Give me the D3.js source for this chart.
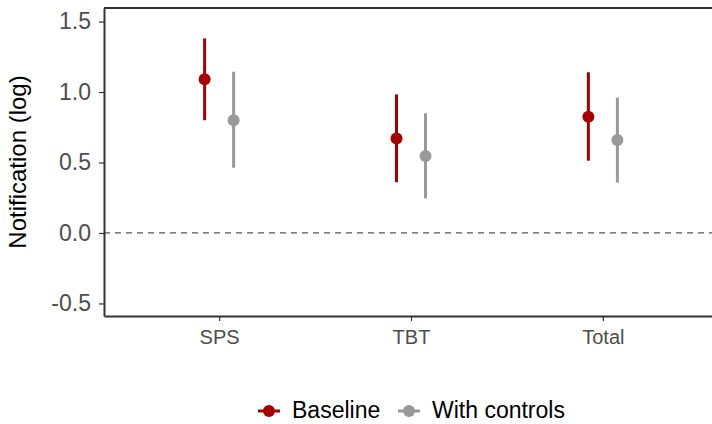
<!DOCTYPE html>
<html>
<head>
<meta charset="utf-8">
<script src="https://cdn.jsdelivr.net/npm/d3@7"></script>
<style>
  body { margin: 0; background: #fff; }
  text { font-family: "Liberation Sans", Arial, sans-serif; }
</style>
</head>
<body>
<svg id="chart" width="712" height="424"></svg>
<script>
// data
var categories = ['SPS', 'TBT', 'Total'];
var models = ['Baseline', 'With controls'];
var colors = ['#a50000', '#999999'];

var baselineEst = [1.09, 0.67, 0.825];
var baselineLo = [0.80, 0.36, 0.513];
var baselineHi = [1.38, 0.983, 1.14];

var controlsEst = [0.80, 0.546, 0.66];
var controlsLo = [0.463, 0.246, 0.357];
var controlsHi = [1.144, 0.849, 0.96];

var yTicks = [-0.5, 0, 0.5, 1.0, 1.5];

var marginLeft = 104;
var marginTop = 8;
var width = 614;   // panel runs off the right edge, as in the original
var height = 308;

var svg = d3.select('#chart');

var rows = [];
categories.forEach(function(c, i){
	rows.push({cat: c, model: 0, est: baselineEst[i], lo: baselineLo[i], hi: baselineHi[i]});
	rows.push({cat: c, model: 1, est: controlsEst[i], lo: controlsLo[i], hi: controlsHi[i]});
});

var xScale = d3.scalePoint()
				.domain(categories)
				.range([0, width])
				.padding(0.6);

var yScale = d3.scaleLinear()
				.domain([-0.589, 1.596])
				.range([height, 0]);

var dodge = 14.5;

var graph = svg.append('g')
		.attr('transform', 'translate(' + marginLeft + ',' + marginTop + ')');

// zero reference line
graph.append('line')
	.attr('x1', 0).attr('x2', width)
	.attr('y1', yScale(0)).attr('y2', yScale(0))
	.attr('stroke', '#555')
	.attr('stroke-width', 1.3)
	.attr('stroke-dasharray', '6,5');

// error bars
graph.selectAll('.ci')
	.data(rows)
	.enter().append('line')
	.attr('class', 'ci')
	.attr('x1', function(d){ return xScale(d.cat) + (d.model ? dodge : -dodge); })
	.attr('x2', function(d){ return xScale(d.cat) + (d.model ? dodge : -dodge); })
	.attr('y1', function(d){ return yScale(d.lo); })
	.attr('y2', function(d){ return yScale(d.hi); })
	.attr('stroke', function(d){ return colors[d.model]; })
	.attr('stroke-width', 3);

graph.selectAll('.pt')
	.data(rows)
	.enter().append('circle')
	.attr('class', 'pt')
	.attr('cx', function(d){ return xScale(d.cat) + (d.model ? dodge : -dodge); })
	.attr('cy', function(d){ return yScale(d.est); })
	.attr('r', 6)
	.attr('fill', function(d){ return colors[d.model]; });

// axes
var fmt = function(d){ return d3.format('.1f')(d).replace('\u2212', '-'); };
var yAxisGen = d3.axisLeft(yScale).tickValues(yTicks).tickFormat(fmt).tickSize(5).tickSizeOuter(0).tickPadding(8);
var xAxisGen = d3.axisBottom(xScale).tickSize(5).tickSizeOuter(0).tickPadding(9);

var yAxis = graph.append('g').call(yAxisGen);
var xAxis = graph.append('g')
	.attr('transform', 'translate(0,' + height + ')')
	.call(xAxisGen);

[yAxis, xAxis].forEach(function(a){
	a.select('.domain').attr('stroke', '#333').attr('stroke-width', 2);
	a.selectAll('.tick line').attr('stroke', '#333').attr('stroke-width', 1.2);
	a.selectAll('.tick text').attr('fill', '#4d4d4d');
});
yAxis.selectAll('.tick text').style('font-size', '23px');
xAxis.selectAll('.tick text').style('font-size', '20px');

// top border
graph.append('line')
	.attr('x1', 0).attr('x2', width)
	.attr('y1', 0).attr('y2', 0)
	.attr('stroke', '#333')
	.attr('stroke-width', 2);

// y label
svg.append('text')
	.attr('transform', 'translate(26,' + (marginTop + height / 2) + ') rotate(-90)')
	.attr('text-anchor', 'middle')
	.style('font-size', '24px')
	.attr('fill', '#000')
	.text('Notification (log)');

// legend
var legend = svg.append('g').attr('transform', 'translate(258,411)');
var lx = [0, 140];
models.forEach(function(m, i){
	var g = legend.append('g').attr('transform', 'translate(' + lx[i] + ',0)');
	g.append('line')
		.attr('x1', 0).attr('x2', 22)
		.attr('y1', 0).attr('y2', 0)
		.attr('stroke', colors[i]).attr('stroke-width', 3);
	g.append('circle')
		.attr('cx', 11).attr('cy', 0).attr('r', 6)
		.attr('fill', colors[i]);
	g.append('text')
		.attr('x', 34).attr('y', 7)
		.style('font-size', '23px')
		.attr('fill', '#000')
		.text(m);
});
</script>
</body>
</html>
